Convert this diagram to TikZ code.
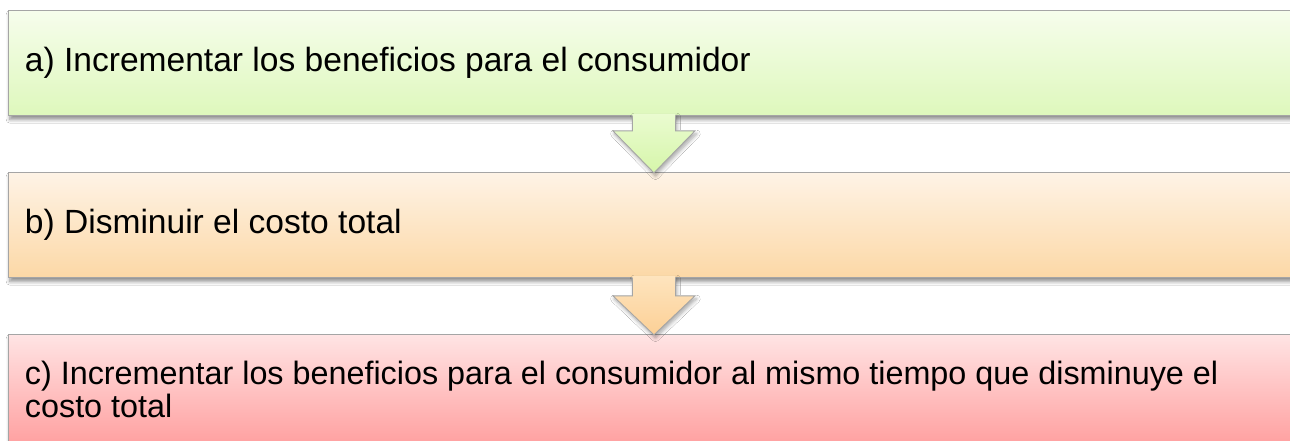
\documentclass[tikz,border=0pt]{standalone}
\usepackage{fontspec}
\setmainfont{Liberation Sans}
\usepackage{tikz}
\usetikzlibrary{shadows.blur}
\definecolor{stepagreentop}{RGB}{246,253,236}
\definecolor{stepagreenbot}{RGB}{222,248,188}
\definecolor{stepborangetop}{RGB}{254,243,230}
\definecolor{stepborangebot}{RGB}{252,216,166}
\definecolor{stepcredtop}{RGB}{255,228,228}
\definecolor{stepcredbot}{RGB}{255,160,160}
\definecolor{arrowgreentop}{RGB}{234,251,208}
\definecolor{arrowgreenbot}{RGB}{214,246,170}
\definecolor{arroworangetop}{RGB}{254,228,190}
\definecolor{arroworangebot}{RGB}{252,208,150}
\definecolor{edgegray}{RGB}{165,165,165}

\begin{document}
\begin{tikzpicture}[
    stepbox/.style={rectangle, draw=edgegray, line width=0.5pt, anchor=north west,
                    text width=26cm, inner xsep=0.33cm, minimum height=2.1cm, align=flush left,
                    font=\fontsize{19.1}{23}\selectfont,
                    blur shadow={shadow blur steps=6, shadow xshift=0.3mm, shadow yshift=-0.8mm, shadow opacity=45}},
    arrowfill/.style={blur shadow={shadow blur steps=5, shadow xshift=0.3mm, shadow yshift=-0.6mm, shadow opacity=35}},
    arrowedge/.style={draw=edgegray, line width=0.5pt, line join=miter}
]
    \fill[white] (0,0) rectangle (25.8,8.8);
    \useasboundingbox (0,0) rectangle (25.8,8.8);

    % Steps
    \node[stepbox, top color=stepagreentop, bottom color=stepagreenbot] (stepa) at (0.16,8.6)
        {a) Incrementar los beneficios para el consumidor};
    \node[stepbox, top color=stepborangetop, bottom color=stepborangebot] (stepb) at (0.16,5.36)
        {b) Disminuir el costo total};
    \node[stepbox, minimum height=2.2cm, font=\fontsize{18.4}{18.6}\selectfont,
          top color=stepcredtop, bottom color=stepcredbot] (stepc) at (0.16,2.12)
        {c) Incrementar los beneficios para el consumidor al mismo tiempo que disminuye el\\costo total};

    % Block arrows between steps (stepa.south sits at x = 13.49)
    \path[arrowfill, top color=arrowgreentop, bottom color=arrowgreenbot]
        ([shift={(-0.85,0.04)}]stepa.south) -- ([shift={(-0.85,-0.3)}]stepa.south)
        -- ([shift={(-1.24,-0.3)}]stepa.south) -- ([shift={(-0.42,-1.14)}]stepa.south)
        -- ([shift={(0.4,-0.3)}]stepa.south) -- ([shift={(0.01,-0.3)}]stepa.south)
        -- ([shift={(0.01,0.04)}]stepa.south) -- cycle;
    \draw[arrowedge]
        ([shift={(-0.85,0)}]stepa.south) -- ([shift={(-0.85,-0.3)}]stepa.south)
        -- ([shift={(-1.24,-0.3)}]stepa.south) -- ([shift={(-0.42,-1.14)}]stepa.south)
        -- ([shift={(0.4,-0.3)}]stepa.south) -- ([shift={(0.01,-0.3)}]stepa.south)
        -- ([shift={(0.01,0)}]stepa.south);

    \path[arrowfill, top color=arroworangetop, bottom color=arroworangebot]
        ([shift={(-0.85,0.04)}]stepb.south) -- ([shift={(-0.85,-0.36)}]stepb.south)
        -- ([shift={(-1.24,-0.36)}]stepb.south) -- ([shift={(-0.42,-1.14)}]stepb.south)
        -- ([shift={(0.4,-0.36)}]stepb.south) -- ([shift={(0.01,-0.36)}]stepb.south)
        -- ([shift={(0.01,0.04)}]stepb.south) -- cycle;
    \draw[arrowedge]
        ([shift={(-0.85,0)}]stepb.south) -- ([shift={(-0.85,-0.36)}]stepb.south)
        -- ([shift={(-1.24,-0.36)}]stepb.south) -- ([shift={(-0.42,-1.14)}]stepb.south)
        -- ([shift={(0.4,-0.36)}]stepb.south) -- ([shift={(0.01,-0.36)}]stepb.south)
        -- ([shift={(0.01,0)}]stepb.south);
\end{tikzpicture}
\end{document}
